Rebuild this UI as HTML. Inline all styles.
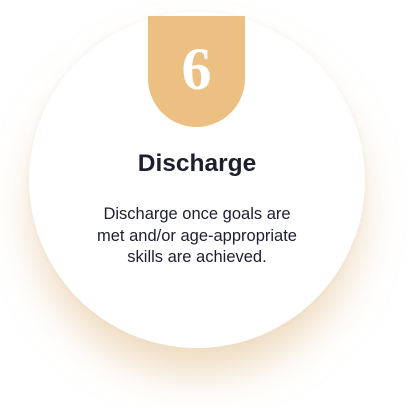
<!DOCTYPE html>
<html><head><style>
html,body{margin:0;padding:0;width:408px;height:408px;background:#fff;overflow:hidden;}
.wrap{position:relative;width:408px;height:408px;}
.circle{position:absolute;left:29px;top:12px;width:336px;height:336px;border-radius:50%;background:#fff;
box-shadow:0 30px 40px -4px rgba(226,190,140,0.55), 0 0 6px rgba(200,180,150,0.15);}
.tab{position:absolute;left:148px;top:16px;width:97px;height:111px;background:#ecc083;border-radius:0 0 48.5px 48.5px;}
.num{position:absolute;left:148px;top:34px;width:97px;text-align:center;color:#fff;font:bold 60px "Liberation Serif",serif;line-height:70px;}
.title{position:absolute;left:0;width:394px;top:150px;text-align:center;font:bold 24.5px "Liberation Sans",sans-serif;color:#1e1e2e;}
.body{position:absolute;left:0;width:384px;left:5px;top:204px;text-align:center;font:16.5px "Liberation Sans",sans-serif;color:#1e1e2e;line-height:21.5px;}
</style></head><body>
<div class="wrap">
<div class="circle"></div>
<div class="tab"></div>
<div class="num">6</div>
<div class="title">Discharge</div>
<div class="body">Discharge once goals are<br>met and/or age-appropriate<br>skills are achieved.</div>
</div>
</body></html>
